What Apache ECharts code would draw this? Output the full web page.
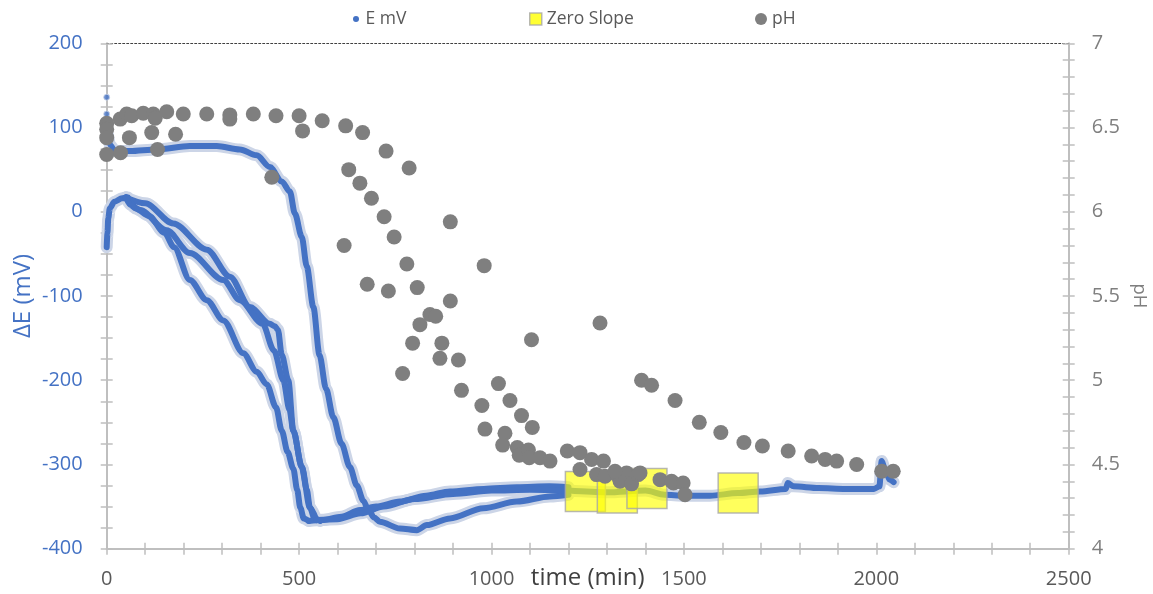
<!DOCTYPE html>
<html>
<head>
<meta charset="utf-8">
<script src="https://cdn.jsdelivr.net/npm/echarts@6/dist/echarts.min.js"></script>
<style>
  html, body { margin: 0; padding: 0; background: #ffffff; }
  #chart { width: 1153px; height: 594px; }
</style>
</head>
<body>
<div id="chart"></div>
<script>
// Axis ticks
const timeTicks = [0, 500, 1000, 1500, 2000, 2500];
const mvTicks = [-400, -300, -200, -100, 0, 100, 200];
const phTicks = [4, 4.5, 5, 5.5, 6, 6.5, 7];

// Electrode potential, [time (min), ΔE (mV)]
const eFirstReadings = [[0, 136], [0, 116]];
const eRise = [[0, -42], [2, -25], [4, -8], [8, 4], [20, 12], [40, 16], [55, 17]];
const eRunA = [[3, 92], [9, 79], [22, 72], [60, 72], [130, 74], [216, 78], [286, 78], [346, 74], [390, 67],
  [424, 53], [455, 36], [476, 24], [489, -2], [507, -30], [520, -65], [537, -113], [553, -170],
  [570, -210], [589, -244], [610, -275], [632, -303], [650, -325], [667, -343], [680, -354],
  [695, -363], [710, -368], [762, -376], [806, -378], [832, -372], [892, -364], [979, -352],
  [1066, -344], [1152, -338], [1200, -336]];
const eRunB = [[50, 17], [100, 10], [173, -14], [260, -45], [320, -77], [372, -113], [424, -133],
  [437, -136], [445, -140], [455, -170], [472, -200], [485, -260], [507, -303], [520, -330],
  [528, -351], [540, -364], [555, -367]];
const eRunC = [[50, 17], [87, 2], [156, -22], [216, -49], [303, -81], [346, -105], [405, -133],
  [435, -165], [459, -200], [475, -235], [485, -260], [507, -303], [528, -351], [545, -366]];
const eRunD = [[50, 17], [62, 8], [75, 4], [110, -5], [150, -25], [175, -42], [216, -81], [260, -105],
  [303, -129], [355, -168], [390, -190], [416, -205], [440, -232], [455, -260], [470, -285],
  [485, -305], [495, -330], [503, -351], [512, -364], [525, -367]];
const eTrack1 = [[525, -367], [560, -366], [610, -362], [658, -354], [700, -350], [762, -344],
  [830, -337], [892, -332], [980, -329], [1066, -327], [1150, -326], [1200, -327]];
const eTrack2 = [[545, -366], [600, -365], [660, -358], [720, -350], [800, -341], [900, -335],
  [1000, -331], [1100, -330], [1200, -331]];
const eTail = [[1200, -331], [1300, -333], [1400, -331], [1450, -336], [1500, -337], [1568, -337],
  [1640, -334], [1698, -332], [1765, -329], [1770, -322], [1785, -326], [1850, -328], [1920, -329],
  [1994, -329], [2008, -326], [2014, -296], [2022, -305], [2035, -318], [2045, -321]];

// Zero-slope windows, [time (min), ΔE (mV)]
const zeroSlope = [[1244, -332], [1327, -334], [1404, -328.5], [1641, -334]];

// pH samples, [time (min), pH]
const phTime = [0, 0, 0, 0, 35, 52, 65, 95, 121, 126, 156, 199, 260, 320, 320, 381, 440, 500, 509, 560,
  621, 665, 59, 117, 179, 36, 132, 429, 726, 786, 893, 981, 1104, 1282, 629, 658, 688, 721, 747,
  617, 780, 677, 732, 807, 893, 840, 855, 814, 795, 871, 866, 914, 769, 922, 1018, 975, 1048, 1078,
  983, 1035, 1106, 1029, 1067, 1072, 1096, 1098, 1126, 1152, 1197, 1230, 1260, 1291, 1230, 1273,
  1295, 1325, 1351, 1334, 1364, 1381, 1390, 1416, 1438, 1477, 1473, 1321, 1386, 1468, 1498, 1503,
  1540, 1596, 1656, 1704, 1771, 1832, 1867, 1897, 1949, 2014, 2044];
const phValue = [6.525, 6.49, 6.44, 6.34, 6.55, 6.58, 6.57, 6.585, 6.58, 6.555, 6.594, 6.58, 6.58,
  6.575, 6.55, 6.58, 6.57, 6.57, 6.48, 6.54, 6.51, 6.47, 6.44, 6.47, 6.46, 6.35, 6.37, 6.205, 6.36,
  6.26, 5.94, 5.68, 5.24, 5.34, 6.25, 6.17, 6.08, 5.97, 5.85, 5.80, 5.69, 5.57, 5.53, 5.55, 5.47,
  5.39, 5.38, 5.33, 5.22, 5.22, 5.13, 5.12, 5.04, 4.94, 4.98, 4.85, 4.88, 4.79, 4.71, 4.685, 4.72,
  4.615, 4.60, 4.555, 4.586, 4.54, 4.54, 4.52, 4.58, 4.57, 4.53, 4.52, 4.47, 4.44, 4.43, 4.44, 4.45,
  4.40, 4.385, 4.44, 5.00, 4.97, 4.41, 4.88, 4.39, 4.46, 4.45, 4.40, 4.39, 4.32, 4.75, 4.69, 4.63,
  4.61, 4.58, 4.55, 4.53, 4.52, 4.50, 4.46, 4.46];

const BLUE = '#4472C4';
const HALO = '#CCD5E7';
const AXIS_GRAY = '#BFBFBF';
const FONT = '"Open Sans", "Noto Sans", sans-serif';

const eSegments = [eRise, eRunA, eRunB, eRunC, eRunD, eTrack1, eTrack2, eTail];
const series = [];
eSegments.forEach(function (seg) {
  series.push({
    type: 'line', name: 'E mV', data: seg, symbol: 'none', smooth: 0.3, smoothMonotone: 'x',
    silent: true, z: 1,
    lineStyle: { color: HALO, width: 12, cap: 'round', join: 'round' }
  });
});
eSegments.forEach(function (seg) {
  series.push({
    type: 'line', name: 'E mV', data: seg, symbol: 'none', smooth: 0.3, smoothMonotone: 'x',
    z: 2,
    lineStyle: { color: BLUE, width: 6, cap: 'round', join: 'round' }
  });
});
series.push({
  type: 'scatter', name: 'E mV', data: eFirstReadings, symbolSize: 6, z: 2,
  itemStyle: { color: BLUE, borderColor: HALO, borderWidth: 1 }
});
series.push({
  type: 'scatter', name: 'Zero Slope', data: zeroSlope, symbol: 'rect', symbolSize: 40, z: 4,
  itemStyle: { color: 'rgba(255,255,0,0.8)', borderColor: '#A6A6A6', borderWidth: 1.5 }
});
series.push({
  type: 'scatter', name: 'pH', yAxisIndex: 1, symbolSize: 15, z: 5,
  data: phTime.map(function (t, i) { return [t, phValue[i]]; }),
  itemStyle: { color: '#7F7F7F', opacity: 1 }
});

const tickStyle = { color: AXIS_GRAY, width: 1.5 };
function valueAxisBase(ticks) {
  return { type: 'value', min: ticks[0], max: ticks[ticks.length - 1], interval: ticks[1] - ticks[0] };
}
function plainNumber(v) { return String(v); }

const legendText = { fontSize: 17.5, color: '#595959', fontFamily: FONT };

const option = {
  animation: false,
  backgroundColor: '#ffffff',
  grid: { left: 106.7, right: 84.3, top: 43.3, bottom: 45.3, containLabel: false, outerBoundsMode: 'none' },
  legend: [
    { data: [{ name: 'E mV', icon: 'circle', itemStyle: { color: BLUE } }], left: 353, top: 10,
      itemWidth: 9, itemHeight: 6, padding: 0, textStyle: legendText },
    { data: [{ name: 'Zero Slope', icon: 'rect', itemStyle: { color: '#FFFF00', borderColor: '#A6A6A6', borderWidth: 1.5 } }],
      left: 529, top: 10, itemWidth: 12, itemHeight: 12, padding: 0, textStyle: legendText },
    { data: [{ name: 'pH', icon: 'circle', itemStyle: { color: '#7F7F7F' } }], left: 755, top: 10,
      itemWidth: 12, itemHeight: 12, padding: 0, textStyle: legendText }
  ],
  xAxis: [
    Object.assign(valueAxisBase(timeTicks), {
      position: 'bottom',
      name: 'time (min)', nameLocation: 'middle', nameGap: 17, nameMoveOverlap: false,
      nameTextStyle: { fontSize: 24, color: '#404040', fontFamily: FONT },
      axisLine: { show: true, onZero: false, lineStyle: { color: AXIS_GRAY, width: 2 } },
      axisTick: { show: true, length: 6, lineStyle: tickStyle },
      minorTick: { show: true, splitNumber: 5, length: 6, lineStyle: tickStyle },
      axisLabel: { fontSize: 20, color: '#595959', margin: 21, fontFamily: FONT, formatter: plainNumber },
      splitLine: { show: false }
    }),
    Object.assign(valueAxisBase(timeTicks), {
      position: 'bottom',
      axisLine: { show: false, onZero: false },
      axisTick: { show: true, inside: true, length: 6, lineStyle: tickStyle },
      minorTick: { show: true, splitNumber: 5, length: 6, lineStyle: tickStyle },
      axisLabel: { show: false }, splitLine: { show: false }
    }),
    Object.assign(valueAxisBase(timeTicks), {
      position: 'top',
      axisLine: { show: true, onZero: false, lineStyle: { color: '#404040', width: 1, type: [2, 2] } },
      axisTick: { show: false }, axisLabel: { show: false }, splitLine: { show: false }
    })
  ],
  yAxis: [
    Object.assign(valueAxisBase(mvTicks), {
      position: 'left',
      name: 'ΔE (mV)', nameLocation: 'middle', nameGap: 72, nameRotate: 90, nameMoveOverlap: false,
      nameTextStyle: { fontSize: 24, color: BLUE, fontFamily: FONT },
      axisLine: { show: true, onZero: false, lineStyle: { color: AXIS_GRAY, width: 2 } },
      axisTick: { show: true, length: 6, lineStyle: tickStyle },
      minorTick: { show: true, splitNumber: 4, length: 6, lineStyle: tickStyle },
      axisLabel: { fontSize: 20, color: BLUE, margin: 24, fontFamily: FONT, formatter: plainNumber },
      splitLine: { show: false }
    }),
    Object.assign(valueAxisBase(phTicks), {
      position: 'right',
      name: 'pH', nameLocation: 'middle', nameGap: 61, nameRotate: -90, nameMoveOverlap: false,
      nameTextStyle: { fontSize: 18.5, color: '#7F7F7F', fontFamily: FONT },
      axisLine: { show: true, onZero: false, lineStyle: { color: AXIS_GRAY, width: 2 } },
      axisTick: { show: true, length: 6, lineStyle: tickStyle },
      minorTick: { show: true, splitNumber: 5, length: 6, lineStyle: tickStyle },
      axisLabel: { fontSize: 20, color: '#7F7F7F', margin: 23, fontFamily: FONT, formatter: plainNumber },
      splitLine: { show: false }
    }),
    Object.assign(valueAxisBase(mvTicks), {
      position: 'left',
      axisLine: { show: false, onZero: false },
      axisTick: { show: true, inside: true, length: 6, lineStyle: tickStyle },
      minorTick: { show: true, splitNumber: 4, length: 6, lineStyle: tickStyle },
      axisLabel: { show: false }, splitLine: { show: false }
    }),
    Object.assign(valueAxisBase(phTicks), {
      position: 'right',
      axisLine: { show: false, onZero: false },
      axisTick: { show: true, inside: true, length: 6, lineStyle: tickStyle },
      minorTick: { show: true, splitNumber: 5, length: 6, lineStyle: tickStyle },
      axisLabel: { show: false }, splitLine: { show: false }
    })
  ],
  series: series
};

const chart = echarts.init(document.getElementById('chart'), null, { renderer: 'canvas' });
chart.setOption(option);
</script>
</body>
</html>
